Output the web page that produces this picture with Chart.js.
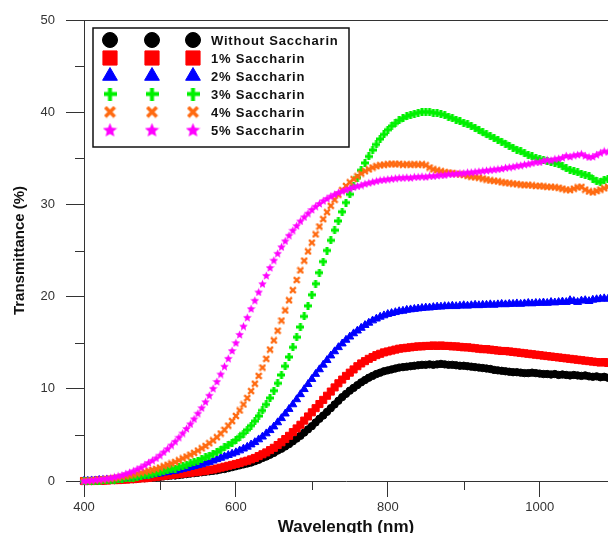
<!DOCTYPE html>
<html lang="en">
<head>
<meta charset="UTF-8">
<title>Transmittance vs wavelength</title>
<script src="https://cdn.jsdelivr.net/npm/chart.js@4"></script>
<style>
  html, body { margin: 0; padding: 0; background: #fff; }
  #wrap { width: 608px; height: 533px; }
</style>
</head>
<body>
<div id="wrap"><canvas id="chart" width="608" height="533"></canvas></div>
<script>
// wavelength (nm), one reading every 5 nm
const wavelength = [
  400,405,410,415,420,425,430,435,440,445,
  450,455,460,465,470,475,480,485,490,495,
  500,505,510,515,520,525,530,535,540,545,
  550,555,560,565,570,575,580,585,590,595,
  600,605,610,615,620,625,630,635,640,645,
  650,655,660,665,670,675,680,685,690,695,
  700,705,710,715,720,725,730,735,740,745,
  750,755,760,765,770,775,780,785,790,795,
  800,805,810,815,820,825,830,835,840,845,
  850,855,860,865,870,875,880,885,890,895,
  900,905,910,915,920,925,930,935,940,945,
  950,955,960,965,970,975,980,985,990,995,
  1000,1005,1010,1015,1020,1025,1030,1035,1040,1045,
  1050,1055,1060,1065,1070,1075,1080,1085,1090
];

// transmittance (%)
const withoutSac = [
  0.0,0.0,0.0,0.05,0.05,0.05,0.1,0.1,0.1,0.15,
  0.15,0.2,0.2,0.2,0.25,0.3,0.3,0.35,0.4,0.4,
  0.45,0.5,0.55,0.6,0.6,0.65,0.7,0.75,0.8,0.85,
  0.9,0.95,1.0,1.05,1.1,1.15,1.25,1.3,1.4,1.5,
  1.6,1.7,1.8,1.9,2.0,2.15,2.3,2.5,2.65,2.85,
  3.05,3.3,3.5,3.75,4.0,4.3,4.6,4.9,5.25,5.6,
  5.95,6.35,6.75,7.1,7.5,7.9,8.3,8.7,9.1,9.45,
  9.8,10.1,10.4,10.7,10.95,11.2,11.4,11.6,11.75,11.9,
  12.0,12.1,12.2,12.3,12.35,12.4,12.45,12.5,12.55,12.6,
  12.6,12.65,12.6,12.65,12.7,12.65,12.6,12.6,12.55,12.5,
  12.5,12.45,12.4,12.35,12.3,12.25,12.2,12.15,12.05,12.0,
  11.95,11.9,11.85,11.8,11.8,11.75,11.7,11.7,11.75,11.7,
  11.65,11.6,11.6,11.55,11.6,11.5,11.55,11.5,11.45,11.5,
  11.45,11.4,11.45,11.35,11.3,11.35,11.25,11.3,11.2
];
const sac1 = [
  0.0,0.0,0.0,0.0,0.05,0.05,0.05,0.1,0.1,0.1,
  0.15,0.15,0.2,0.2,0.25,0.3,0.3,0.35,0.4,0.45,
  0.5,0.55,0.6,0.65,0.7,0.75,0.8,0.85,0.9,0.95,
  1.0,1.05,1.1,1.2,1.25,1.35,1.45,1.55,1.65,1.75,
  1.85,1.95,2.1,2.2,2.35,2.5,2.7,2.9,3.1,3.35,
  3.6,3.9,4.2,4.55,4.9,5.3,5.7,6.1,6.55,7.0,
  7.45,7.9,8.35,8.8,9.25,9.7,10.15,10.6,11.0,11.4,
  11.75,12.1,12.45,12.75,13.0,13.25,13.45,13.65,13.8,13.95,
  14.05,14.15,14.25,14.35,14.4,14.45,14.5,14.55,14.6,14.6,
  14.65,14.65,14.7,14.65,14.7,14.65,14.65,14.6,14.6,14.55,
  14.5,14.5,14.45,14.4,14.35,14.3,14.3,14.25,14.2,14.15,
  14.1,14.1,14.05,14.0,13.95,13.9,13.85,13.8,13.75,13.7,
  13.65,13.6,13.55,13.5,13.45,13.4,13.35,13.3,13.25,13.2,
  13.15,13.1,13.05,13.0,12.95,12.9,12.85,12.9,12.8
];
const sac2 = [
  0.0,0.0,0.05,0.05,0.1,0.1,0.15,0.15,0.2,0.2,
  0.25,0.3,0.35,0.4,0.45,0.5,0.55,0.6,0.7,0.75,
  0.8,0.9,0.95,1.05,1.1,1.2,1.3,1.4,1.5,1.6,
  1.7,1.8,1.95,2.05,2.2,2.35,2.5,2.65,2.8,2.95,
  3.1,3.3,3.5,3.7,3.95,4.2,4.5,4.8,5.15,5.5,
  5.9,6.35,6.8,7.3,7.8,8.3,8.85,9.4,9.95,10.5,
  11.05,11.6,12.1,12.6,13.1,13.6,14.05,14.5,14.9,15.3,
  15.65,16.0,16.3,16.6,16.9,17.15,17.4,17.6,17.8,17.95,
  18.1,18.2,18.3,18.4,18.45,18.55,18.6,18.65,18.7,18.75,
  18.8,18.8,18.85,18.9,18.9,18.95,18.95,19.0,18.95,19.0,
  19.05,19.0,19.05,19.1,19.05,19.1,19.1,19.15,19.1,19.15,
  19.2,19.15,19.2,19.2,19.25,19.2,19.25,19.3,19.25,19.3,
  19.3,19.35,19.3,19.4,19.35,19.4,19.45,19.4,19.6,19.5,
  19.4,19.55,19.6,19.5,19.65,19.7,19.75,19.8,19.75
];
const sac3 = [
  0.0,0.0,0.0,0.05,0.05,0.1,0.1,0.15,0.15,0.2,
  0.25,0.3,0.3,0.35,0.45,0.5,0.6,0.65,0.75,0.85,
  0.95,1.05,1.15,1.25,1.35,1.5,1.6,1.75,1.9,2.05,
  2.2,2.4,2.55,2.75,2.95,3.15,3.4,3.65,3.9,4.15,
  4.45,4.8,5.15,5.55,6.0,6.5,7.05,7.65,8.3,9.0,
  9.8,10.6,11.5,12.45,13.45,14.5,15.6,16.7,17.85,19.0,
  20.2,21.4,22.6,23.8,25.0,26.1,27.2,28.2,29.2,30.2,
  31.1,32.0,32.9,33.7,34.5,35.2,35.9,36.5,37.1,37.6,
  38.1,38.5,38.8,39.1,39.35,39.55,39.7,39.85,39.95,40.05,
  40.0,40.05,39.95,39.9,39.8,39.7,39.5,39.35,39.2,39.0,
  38.85,38.7,38.5,38.3,38.05,37.8,37.6,37.4,37.2,37.0,
  36.8,36.6,36.35,36.15,35.95,35.75,35.55,35.35,35.2,35.05,
  34.9,34.8,34.75,34.6,34.5,34.4,34.15,33.9,33.75,33.6,
  33.5,33.35,33.2,33.1,32.8,32.5,32.4,32.7,32.8
];
const sac4 = [
  0.0,0.0,0.05,0.1,0.1,0.15,0.2,0.25,0.3,0.35,
  0.45,0.5,0.6,0.7,0.8,0.9,1.0,1.1,1.2,1.3,
  1.45,1.6,1.75,1.9,2.05,2.25,2.45,2.65,2.85,3.05,
  3.3,3.55,3.8,4.1,4.4,4.75,5.15,5.55,6.0,6.5,
  7.05,7.65,8.3,9.0,9.75,10.55,11.4,12.3,13.25,14.25,
  15.25,16.3,17.4,18.5,19.6,20.7,21.8,22.85,23.9,24.9,
  25.85,26.75,27.6,28.4,29.15,29.85,30.5,31.05,31.55,32.0,
  32.4,32.75,33.05,33.35,33.6,33.8,34.0,34.15,34.25,34.3,
  34.35,34.4,34.35,34.4,34.3,34.35,34.3,34.35,34.3,34.35,
  34.25,34.0,33.8,33.7,33.6,33.5,33.45,33.4,33.3,33.25,
  33.2,33.1,33.0,32.95,32.9,32.8,32.7,32.6,32.55,32.5,
  32.4,32.35,32.3,32.25,32.2,32.15,32.1,32.1,32.05,32.0,
  32.0,31.95,31.9,31.9,31.85,31.8,31.7,31.6,31.55,31.7,
  31.85,31.9,31.6,31.4,31.3,31.45,31.6,31.75,31.9
];
const sac5 = [
  0.0,0.05,0.1,0.15,0.2,0.25,0.3,0.35,0.45,0.55,
  0.65,0.8,0.95,1.1,1.3,1.5,1.75,2.0,2.25,2.5,
  2.8,3.15,3.5,3.9,4.3,4.75,5.2,5.7,6.2,6.75,
  7.35,7.95,8.6,9.3,10.05,10.8,11.6,12.45,13.3,14.15,
  15.0,15.9,16.8,17.75,18.7,19.6,20.5,21.4,22.3,23.15,
  23.95,24.7,25.4,26.05,26.65,27.2,27.7,28.2,28.65,29.05,
  29.45,29.8,30.1,30.4,30.65,30.9,31.1,31.3,31.45,31.6,
  31.75,31.9,32.0,32.1,32.25,32.35,32.45,32.55,32.65,32.7,
  32.75,32.8,32.85,32.9,32.9,32.95,32.9,33.0,33.0,33.05,
  33.0,33.1,33.1,33.15,33.2,33.2,33.3,33.3,33.35,33.4,
  33.4,33.5,33.5,33.55,33.6,33.65,33.7,33.75,33.8,33.85,
  33.9,34.0,34.05,34.1,34.2,34.25,34.35,34.4,34.5,34.6,
  34.6,34.75,34.85,34.8,34.95,35.0,35.1,35.3,35.2,35.35,
  35.4,35.5,35.3,35.15,35.2,35.4,35.6,35.8,35.7
];

const seriesNames = ['Without Saccharin', '1% Saccharin', '2% Saccharin', '3% Saccharin', '4% Saccharin', '5% Saccharin'];
const seriesValues = [withoutSac, sac1, sac2, sac3, sac4, sac5];
const seriesColors = ['#000000', '#ff0000', '#0000ff', '#00f000', '#ff6a10', '#ff00ff'];
const xTicks = [400, 600, 800, 1000];
const xMinorTicks = [500, 700, 900];
const yTicks = [0, 10, 20, 30, 40, 50];
const yMinorTicks = [5, 15, 25, 35, 45];

const font = 'Liberation Sans, Arial, sans-serif';

// small canvases for the bold plus, bold x and filled star markers
function marker(size, paint) {
  const c = document.createElement('canvas');
  c.width = c.height = size;
  const g = c.getContext('2d');
  paint(g, size / 2);
  return c;
}
function plus(color, size, t) {
  return marker(size, (g, m) => {
    g.fillStyle = color;
    g.fillRect(m - t / 2, 0, t, size);
    g.fillRect(0, m - t / 2, size, t);
  });
}
function ex(color, size, w) {
  return marker(size, (g, m) => {
    g.strokeStyle = color;
    g.lineWidth = w;
    const d = m - w / 2;
    g.beginPath();
    g.moveTo(m - d, m - d); g.lineTo(m + d, m + d);
    g.moveTo(m + d, m - d); g.lineTo(m - d, m + d);
    g.stroke();
  });
}
function star(color, size) {
  return marker(size, (g, m) => {
    g.fillStyle = color;
    g.beginPath();
    for (let k = 0; k < 10; k++) {
      const r = k % 2 ? m * 0.45 : m;
      const a = -Math.PI / 2 + k * Math.PI / 5;
      g.lineTo(m + r * Math.cos(a), m + 0.5 + r * Math.sin(a));
    }
    g.closePath();
    g.fill();
  });
}

// [pointStyle, radius, borderWidth] for plot and legend
const looks = [
  ['circle', 3.7, 1],
  ['rect', 5, 1],
  ['triangle', 4.6, 1],
  [plus(seriesColors[3], 8, 3), 4, 0],
  [ex(seriesColors[4], 8, 2.2), 4, 0],
  [star(seriesColors[5], 9), 4, 0]
];
const legendLooks = [
  ['circle', 7.5, 1],
  ['rect', 10, 1],
  ['triangle', 8.5, 1],
  [plus(seriesColors[3], 13, 4), 6, 0],
  [ex(seriesColors[4], 13, 3.6), 6, 0],
  [star(seriesColors[5], 15), 7, 0]
];

const datasets = seriesValues.map((vals, i) => ({
  label: seriesNames[i],
  data: wavelength.map((w, j) => ({ x: w, y: vals[j] })),
  pointStyle: looks[i][0],
  pointRadius: looks[i][1],
  pointBorderWidth: looks[i][2],
  borderColor: seriesColors[i],
  backgroundColor: seriesColors[i],
  showLine: false,
  clip: false,
  order: 5 - i
}));

// minor ticks, top frame line and the boxed legend
const frame = {
  id: 'frame',
  afterDraw(chart) {
    const { ctx, chartArea: a, scales: { x, y } } = chart;
    ctx.save();
    ctx.strokeStyle = '#333';
    ctx.lineWidth = 1;
    ctx.beginPath();
    ctx.moveTo(a.left, a.top + 0.5);
    ctx.lineTo(a.right, a.top + 0.5);
    xMinorTicks.forEach(v => {
      const px = Math.round(x.getPixelForValue(v)) + 0.5;
      ctx.moveTo(px, a.bottom);
      ctx.lineTo(px, a.bottom + 9);
    });
    yMinorTicks.forEach(v => {
      const py = Math.round(y.getPixelForValue(v)) + 0.5;
      ctx.moveTo(a.left - 9, py);
      ctx.lineTo(a.left, py);
    });
    ctx.stroke();

    // legend box
    const box = { left: 93, top: 28, right: 349, bottom: 147 };
    ctx.fillStyle = '#fff';
    ctx.fillRect(box.left, box.top, box.right - box.left, box.bottom - box.top);
    ctx.strokeStyle = '#111';
    ctx.lineWidth = 1.5;
    ctx.strokeRect(box.left, box.top, box.right - box.left, box.bottom - box.top);

    const markX = [110, 152, 193];
    ctx.font = 'bold 13px ' + font;
    ctx.letterSpacing = '0.8px';
    ctx.textBaseline = 'middle';
    ctx.textAlign = 'left';
    seriesNames.forEach((name, i) => {
      const rowY = 40 + i * 18;
      const [style, r, bw] = legendLooks[i];
      ctx.fillStyle = seriesColors[i];
      ctx.strokeStyle = seriesColors[i];
      ctx.lineWidth = bw;
      markX.forEach(mx => {
        Chart.helpers.drawPoint(ctx, { pointStyle: style, radius: r, borderWidth: bw, rotation: 0 }, mx, rowY);
      });
      ctx.fillStyle = '#111';
      ctx.fillText(name, 211, rowY + 1);
    });
    ctx.restore();
  }
};

new Chart(document.getElementById('chart'), {
  type: 'scatter',
  data: { datasets },
  options: {
    responsive: false,
    animation: false,
    devicePixelRatio: 1,
    layout: { autoPadding: false, padding: { top: 20, right: 0, left: 0, bottom: 0 } },
    plugins: { legend: { display: false }, tooltip: { enabled: false } },
    scales: {
      x: {
        type: 'linear',
        min: 400,
        max: 1090,
        afterBuildTicks: s => { s.ticks = xTicks.map(v => ({ value: v })); },
        afterFit: s => { s.height = 52; s.paddingLeft = 0; s.paddingRight = 0; },
        grid: { drawOnChartArea: false, drawTicks: true, tickLength: 16, color: '#333' },
        border: { display: true, color: '#333', width: 1 },
        ticks: { color: '#333', padding: 3, maxRotation: 0, font: { family: font, size: 13 }, callback: v => String(v) },
        title: {
          display: true, text: 'Wavelength (nm)', color: '#111',
          font: { family: font, size: 17, weight: 'bold', lineHeight: 1 },
          padding: { top: 0, bottom: -3 }
        }
      },
      y: {
        min: 0,
        max: 50,
        afterBuildTicks: s => { s.ticks = yTicks.map(v => ({ value: v })); },
        afterFit: s => { s.width = 84; },
        grid: { drawOnChartArea: false, drawTicks: true, tickLength: 18, color: '#333' },
        border: { display: true, color: '#333', width: 1 },
        ticks: { color: '#333', padding: 11, font: { family: font, size: 13 }, callback: v => String(v) },
        title: {
          display: true, text: 'Transmittance (%)', color: '#111',
          font: { family: font, size: 15, weight: 'bold', lineHeight: 1 },
          padding: { top: 12, bottom: 0 }
        }
      }
    }
  },
  plugins: [frame]
});
</script>
</body>
</html>
